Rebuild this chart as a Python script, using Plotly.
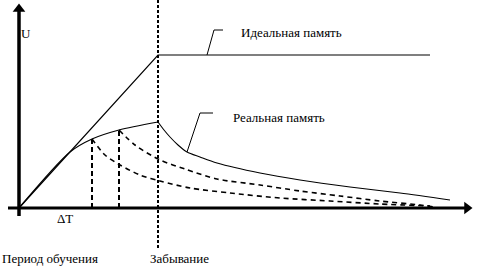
import plotly.graph_objects as go

# ---- data (t = time, u = memory level), origin at axes intersection ----
t_ideal = [0, 139, 411]
u_ideal = [0, 153, 153]

t_learn = [0, 51, 73, 100, 139]
u_learn = [0, 56, 69, 78, 86]

t_forget = [139, 145, 151, 159, 168, 181, 198, 241, 281, 331, 381, 431]
u_forget = [86, 78, 71, 63, 56, 51, 45, 35, 28, 21, 15, 8]

t_dash2 = [100, 116, 141, 166, 198, 241, 281, 321, 361, 401, 416]
u_dash2 = [78, 63, 48, 39, 29, 23, 17, 12, 7, 3, 1]

t_dash1 = [73, 86, 101, 121, 141, 171, 211, 261, 311, 361, 411]
u_dash1 = [69, 53, 43, 33, 27, 20, 15, 10, 7, 4, 2]

t_stop = [73, 100]          # moments where learning stops
u_stop = [69, 78]
t_forget_start = 139

lead_ideal_t = [188, 195, 204]
lead_ideal_u = [153, 178, 178]
lead_real_t = [168, 181, 194]
lead_real_u = [56, 95, 95]

labels = {
    "ideal": "Идеальная память",
    "real": "Реальная память",
    "u": "U",
    "dt": "ΔT",
    "learn": "Период обучения",
    "forget": "Забывание",
}

X_RANGE = [-19, 459]
Y_RANGE = [-60, 208]

fig = go.Figure()
blk = "black"
def line(x, y, width=1, dash="solid", shape="linear", smooth=None):
    ln = dict(color=blk, width=width, dash=dash, shape=shape)
    if smooth is not None:
        ln["smoothing"] = smooth
    fig.add_trace(go.Scatter(x=x, y=y, mode="lines", line=ln,
                             hoverinfo="skip", showlegend=False))

# axes
line([-11, 450], [0, 0], width=3)
fig.add_trace(go.Scatter(x=[448], y=[0], mode="markers",
                         marker=dict(symbol="triangle-right", size=11, color=blk),
                         hoverinfo="skip", showlegend=False))
line([0, 0], [-8, 200], width=3.5)
fig.add_trace(go.Scatter(x=[0], y=[199], mode="markers",
                         marker=dict(symbol="triangle-up", size=11, color=blk),
                         hoverinfo="skip", showlegend=False))

# forgetting boundary
line([t_forget_start, t_forget_start], [-40, 208], width=2, dash="3px,2px")

# ideal memory
line(t_ideal, u_ideal, width=1.2)

# real memory
line(t_learn, u_learn, width=1.2, shape="spline", smooth=0.8)
line(t_forget, u_forget, width=1.1, shape="spline", smooth=0.8)

# interrupted learning
for ts, us in zip(t_stop, u_stop):
    line([ts, ts], [0, us], width=2, dash="5px,3px")
line(t_dash2, u_dash2, width=1.6, dash="5px,4px", shape="spline", smooth=0.8)
line(t_dash1, u_dash1, width=1.6, dash="5px,4px", shape="spline", smooth=0.8)

# leaders
line(lead_ideal_t, lead_ideal_u, width=1)
line(lead_real_t, lead_real_u, width=1)

font = dict(family="Liberation Serif", size=13, color=blk)
def text(t, u, s, anchor="left"):
    fig.add_annotation(x=t, y=u, text=s, showarrow=False, xanchor=anchor,
                       yanchor="middle", font=font)

text(220, 176, labels["ideal"])
text(212, 91, labels["real"])
text(0, 175, labels["u"])
text(46, -10, labels["dt"], anchor="center")
text(-19, -50, labels["learn"])
text(129, -50, labels["forget"])

fig.update_layout(
    width=478, height=268,
    margin=dict(l=0, r=0, t=0, b=0),
    paper_bgcolor="white", plot_bgcolor="white",
    font=font,
    xaxis=dict(range=X_RANGE, visible=False, fixedrange=True),
    yaxis=dict(range=Y_RANGE, visible=False, fixedrange=True),
    showlegend=False,
)
fig.write_html("out.html", config={"displayModeBar": False},
               post_script="document.body.style.margin='0';document.body.style.overflow='hidden';")
